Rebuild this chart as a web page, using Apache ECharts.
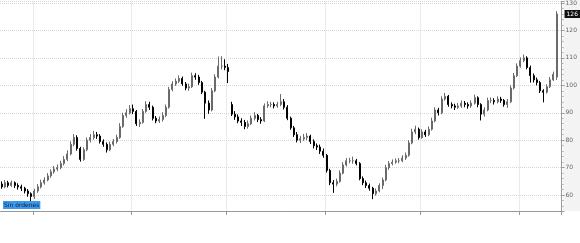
<!DOCTYPE html>
<html>
<head>
<meta charset="utf-8">
<script src="https://cdn.jsdelivr.net/npm/echarts@6/dist/echarts.min.js"></script>
<style>html,body{margin:0;padding:0;background:#fff}#c{width:580px;height:243px}</style>
</head>
<body>
<div id="c"></div>
<script>
// [open, close, low, high] per bar
const bars = [
[64,63,62.3,65],[63,64.5,62.5,65.5],[64.5,63.5,62.8,65.2],[63.5,64.5,63,65.3],[64.5,63.5,62.6,65],[63.5,63,62,64.3],[63,62.5,61.5,63.8],[62.5,61.5,60.6,63],[61.5,60.5,59.4,62.2],[60.5,59.5,57.8,61],
[59.5,61.5,58.6,62.3],[61.5,63,60.8,64],[63,64.5,62.4,65.6],[64.5,65.5,63.8,66.5],[65.5,67,65,68],[67,68.5,66.3,69.4],[68.5,69.5,67.8,70.6],[69.5,70,68.7,71.2],[70,71.5,69.4,72.5],[71.5,73,70.8,74.2],
[73,75,72.4,76.3],[75,78.5,74.5,79.6],[78.5,81,77.8,82.2],[81,77,76.2,81.8],[77,73,72.2,77.6],[73,76.5,72.5,77.4],[76.5,80,76,81],[80,81,79.2,82.3],[81,82,80.2,83.4],[82,81.5,80.5,83],
[81.5,79.5,78.8,82.2],[79.5,78.5,77.6,80.3],[78.5,76.5,75.5,79.2],[76.5,78.5,76,79.5],[78.5,79.5,77.8,80.4],[79.5,81,78.8,82],[81,85,80.5,86.2],[85,89,84.5,90],[89,90,88.2,91.3],[90,91.5,89.4,92.8],
[91.5,90.5,89.5,93],[90.5,86,85.2,91],[86,86.5,84.8,87.6],[86.5,90.5,86,91.4],[90.5,93,90,94.2],[93,92,91,94],[92,88,87.2,92.6],[88,87,86.2,88.8],[87,87.5,86.3,88.6],[87.5,89,86.8,90.2],
[89,92,88.4,93],[92,98.5,91.5,99.4],[98.5,100.5,97.8,101.5],[100.5,101.5,99.8,102.5],[101.5,102.5,100.8,103.6],[102.5,100.5,99.8,103.2],[100.5,99,98.2,101.2],[99,99.5,98,100.6],[99.5,103.5,99,104.6],[103.5,103,102,104.4],
[103,101,100.2,103.8],[101,97.5,96.8,101.6],[97.5,93.5,87.8,98],[93.5,91,89.6,94.5],[91,98,90.5,99],[98,103,97.5,104],[103,107,102.5,110.5],[107,107,105.8,110.6],[107,106.5,105.5,109.5],[106.5,105,100.8,107.8],
[93,89.5,88.8,94],[89.5,88.5,87.4,90.6],[88.5,87,86.2,89.4],[87,86.5,85.2,88],[86.5,85,84,87.4],[85,86,84.2,87.2],[86,88,85.5,89],[88,89,87.2,90.2],[89,87.5,86.6,89.6],[87.5,87,86,88.4],
[87,92.5,86.6,93.4],[92.5,93,91.8,94.2],[93,93,92,94],[93,92.5,91.6,93.8],[92.5,93,91.8,94],[93,94,92.4,96.8],[94,92,91.2,95],[92,88,87.3,92.8],[88,84.5,83.8,88.6],[84.5,82,81.2,85.2],
[82,80,79.2,83],[80,80.5,79,81.6],[80.5,81,79.8,82.3],[81,81.5,80,82.6],[81.5,79.5,78.6,82],[79.5,78,77,80.3],[78,77.5,76.4,78.8],[77.5,76,75,78.4],[76,74.5,73.6,77],[74.5,69,68.2,75],
[69,64.5,63.6,69.6],[64.5,64,60.8,65.5],[64,65,63.2,66],[65,68,64.5,69],[68,71,67.5,72],[71,72.5,70.4,73.5],[72.5,72.5,71.6,73.6],[72.5,72.5,71.4,74],[72.5,71.5,70.8,73.2],[71.5,66,65.4,72],
[66,64.5,63.6,66.8],[64.5,63.5,62.6,65.3],[63.5,62.5,61.6,64.2],[62.5,60.5,58.5,63],[60.5,61.5,59.8,62.4],[61.5,63.5,61,64.3],[63.5,65.5,62.2,66.4],[65.5,70,65,71],[70,71.5,69.2,72.4],[71.5,72,70.8,73],
[72,72.5,71.4,73.4],[72.5,72.5,71.6,73.5],[72.5,73.5,72,74.5],[73.5,74.5,72.8,75.5],[74.5,79,74,80],[79,83,78.5,84.2],[83,84,82.2,85.3],[84,81,80.2,84.6],[81,83,80.5,84],[83,82,81.2,83.8],
[82,84,81.5,85],[84,87,83.5,88.2],[87,91,86.5,92],[91,90,89,91.8],[90,95,89.5,96],[95,96,94.4,97.2],[96,93,92.2,96.5],[93,92.5,91.6,93.8],[92.5,92,91,93.3],[92,92.5,91.4,93.6],
[92.5,93.5,91.8,94.5],[93.5,93,92,94.3],[93,92.5,91.5,93.8],[92.5,93.5,91.8,94.5],[93.5,95.5,93,96.6],[95.5,93,92,96],[93,89.5,87.2,93.5],[89.5,91,88.6,92],[91,94.5,90.5,95.5],[94.5,94.5,93.5,95.6],
[94.5,94,93,95.3],[94,95,93.4,96],[95,94.5,93.6,95.8],[94.5,93,92.2,95],[93,94,91.8,95],[94,99,93.5,100],[99,103.5,98.5,104.5],[103.5,107,103,108],[107,109,106.4,110.2],[109,110,108.4,111.2],
[110,106.5,105.8,110.6],[106.5,103.5,101,107.2],[103.5,102,101,104.3],[102,101,100,102.8],[101,98,97.2,101.6],[98,97.5,93.8,98.6],[97.5,99.5,97,100.4],[99.5,102,99,103],[102,104,101.6,105],[103,126,102,127]
];
const slotCount = 171; // one empty slot after the last bar
const categories = Array.from({length: slotCount}, (_, i) => String(i + 1));
const gridBreaks = [10, 40, 69, 99, 128, 158];
const lastPrice = 126;
const statusText = 'Sin órdenes';

const chart = echarts.init(document.getElementById('c'), null, {renderer: 'canvas'});
chart.setOption({
  animation: false,
  backgroundColor: '#ffffff',
  grid: {left: 0, right: 18, top: 0, bottom: 32, containLabel: false},
  xAxis: {
    type: 'category',
    data: categories,
    boundaryGap: true,
    axisLine: {show: true, lineStyle: {color: '#9a9a9a', width: 1}},
    axisTick: {show: true, length: 4, interval: (i) => gridBreaks.includes(i), lineStyle: {color: '#9a9a9a'}},
    axisLabel: {show: false},
    splitLine: {show: true, interval: (i) => gridBreaks.includes(i), lineStyle: {type: 'dotted', color: '#d6d6d6'}}
  },
  yAxis: {
    type: 'value',
    position: 'right',
    min: 54.2,
    max: 130.5,
    splitNumber: 8,
    scale: true,
    axisLine: {show: true, lineStyle: {color: '#9a9a9a'}},
    axisTick: {show: true, length: 3, lineStyle: {color: '#9a9a9a'}},
    minorTick: {show: true, splitNumber: 5, length: 2, lineStyle: {color: '#b0b0b0'}},
    axisLabel: {fontSize: 6, color: '#666', margin: 4, showMinLabel: false, showMaxLabel: false, fontFamily: 'DejaVu Sans'},
    splitLine: {show: true, lineStyle: {type: 'dotted', color: '#d6d6d6'}}
  },
  graphic: [
    {type: 'rect', left: 563, top: 0, z: -10, shape: {width: 17, height: 211}, style: {fill: '#f3f3f3'}},
    {type: 'text', left: 3, top: 201, z: 100, style: {text: statusText, fontSize: 6, fontFamily: 'DejaVu Sans', fill: '#102030', backgroundColor: '#3a98ee', padding: [1, 1, 1, 1]}}
  ],
  series: [{
    type: 'candlestick',
    data: bars,
    barWidth: 1.5,
    itemStyle: {color: '#6a6a6a', color0: '#000000', borderColor: '#6a6a6a', borderColor0: '#000000', borderWidth: 1},
    markLine: {
      silent: true,
      symbol: ['none', 'none'],
      data: [{yAxis: lastPrice}],
      lineStyle: {color: 'rgba(0,0,0,0)', width: 1},
      label: {show: true, position: 'end', formatter: String(lastPrice), color: '#fff', backgroundColor: '#111', fontSize: 6, fontFamily: 'DejaVu Sans', padding: [1, 2], distance: 3}
    }
  }]
});
</script>
</body>
</html>
